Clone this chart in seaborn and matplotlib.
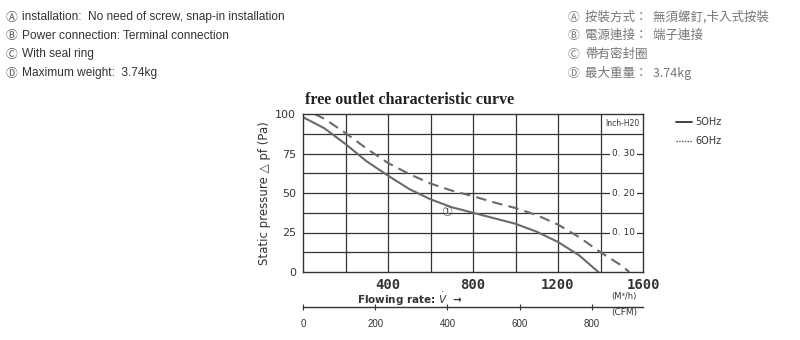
import numpy as np
import pandas as pd
import matplotlib
matplotlib.use("Agg")
import matplotlib.pyplot as plt
import seaborn as sns

# ---- data ----
flow_50 = [0, 100, 200, 300, 400, 500, 600, 700, 800, 900, 1000, 1100, 1200, 1300, 1390]
pres_50 = [98, 91, 81, 70, 61, 52.5, 46, 41, 37.5, 34, 30.5, 25.5, 19, 10.5, 0]
flow_60 = [55, 100, 200, 300, 400, 500, 600, 700, 800, 900, 1000, 1100, 1200, 1300, 1400, 1500, 1535]
pres_60 = [100, 97, 88, 78, 69, 62, 56, 51.5, 48, 44, 40.5, 36, 30, 22, 12.5, 4, 0]
x_ticks = [400, 800, 1200, 1600]
y_ticks = [0, 25, 50, 75, 100]
inch_ticks = [0.10, 0.20, 0.30]
cfm_ticks = [0, 200, 400, 600, 800]
en_lines = ["installation:  No need of screw, snap-in installation",
            "Power connection: Terminal connection",
            "With seal ring",
            "Maximum weight:  3.74kg"]
zh_lines = ["按裝方式：  無須螺釘,卡入式按裝",
            "電源連接：  端子連接",
            "帶有密封圈",
            "最大重量：  3.74kg"]
markers = ["Ⓐ", "Ⓑ", "Ⓒ", "Ⓓ"]

sns.set_theme(style="white")
plt.rcParams['font.family'] = ['DejaVu Sans', 'Noto Sans CJK TC']

df = pd.concat([
    pd.DataFrame({"flow": flow_50, "p": pres_50, "freq": "50Hz"}),
    pd.DataFrame({"flow": flow_60, "p": pres_60, "freq": "60Hz"}),
])

fig = plt.figure(figsize=(8, 3.4), dpi=100)
ax = fig.add_axes([303/800, 1-272/340, 340/800, 158/340])

sns.lineplot(data=df, x="flow", y="p", hue="freq", style="freq",
             palette={"50Hz": "#6a6a6a", "60Hz": "#6a6a6a"},
             dashes={"50Hz": "", "60Hz": (5, 3)}, lw=1.5, sort=False,
             legend=False, ax=ax)

ax.set_xlim(0, 1600)
ax.set_ylim(0, 100)
for xv in np.arange(200, 1600, 200):
    ax.axvline(xv, color="#333333", lw=0.9, zorder=0)
for yv in np.arange(12.5, 100, 12.5):
    ax.axhline(yv, color="#333333", lw=0.9, zorder=0)
for s in ax.spines.values():
    s.set_color("#333333")
    s.set_linewidth(1.0)

ax.set_xticks(x_ticks)
ax.set_xticklabels([f"{v}" for v in x_ticks], fontsize=10, fontweight="bold",
                   color="#333333", fontfamily="DejaVu Sans Mono")
ax.set_yticks(y_ticks)
ax.set_yticklabels([str(v) for v in y_ticks], fontsize=8, color="#333333")
ax.tick_params(axis="y", length=0, pad=5)
ax.tick_params(axis="x", length=0, pad=4)
ax.set_xlabel("")
ax.set_ylabel("Static pressure △ pf (Pa)", fontsize=8.5, color="#333333", labelpad=3)

# inch-H2O labels inside plot
for v in inch_ticks:
    ax.text(1510, v * 249.09, f"{v:.2f}".replace(".", ". "), fontsize=6.5,
            color="#333333", ha="center", va="center",
            bbox=dict(facecolor="white", edgecolor="none", pad=1.5))
ax.text(1505, 94, "Inch-H20", fontsize=5.5, color="#333333", ha="center", va="center",
        bbox=dict(facecolor="white", edgecolor="none", pad=1))
ax.text(678, 37.5, "①", fontsize=9, color="#555555", ha="center", va="center",
        family=["DejaVu Sans", "Noto Sans CJK TC"])

fig.text(410/800, 1-100/340, "free outlet characteristic curve", fontsize=11.5,
         fontweight="bold", family="Liberation Serif", ha="center", va="center", color="#222222")
fig.text(410/800, 1-299/340, r"Flowing rate: $\dot{V}$  →", fontsize=7.5, fontweight="bold",
         ha="center", va="center", color="#333333")
fig.text(624/800, 1-297/340, "(M³/h)", fontsize=6, ha="center", va="center", color="#333333")
fig.text(624/800, 1-313/340, "(CFM)", fontsize=6.5, ha="center", va="center", color="#333333")

# CFM axis
ax2 = fig.add_axes([303/800, 1-307/340, 340/800, 0.001])
ax2.set_xlim(0, 1600 / 1.699)
ax2.set_ylim(0, 1)
ax2.set_yticks([])
for k in ["top", "left", "right"]:
    ax2.spines[k].set_visible(False)
ax2.spines["bottom"].set_color("#333333")
ax2.spines["bottom"].set_linewidth(1.0)
ax2.set_xticks(cfm_ticks)
ax2.set_xticklabels([str(v) for v in cfm_ticks], fontsize=7, color="#333333",
                    family="Liberation Sans")
ax2.tick_params(axis="x", direction="inout", length=5, width=0.8, color="#333333", pad=6, bottom=True)
ax2.patch.set_visible(False)

# legend (manual)
fig.add_artist(plt.Line2D([676/800, 692/800], [1-122/340, 1-122/340], color="#333333", lw=1.3))
fig.add_artist(plt.Line2D([676/800, 692/800], [1-141/340, 1-141/340], color="#555555", lw=1.0, ls=(0, (1, 1))))
fig.text(695/800, 1-122/340, "5OHz", fontsize=7, va="center", color="#333333")
fig.text(695/800, 1-141/340, "6OHz", fontsize=7, va="center", color="#333333")

# header texts
for i, (m, t) in enumerate(zip(markers, en_lines)):
    y = 1 - (17 + i * 18.7) / 340
    fig.text(6/800, y, m, fontsize=8.5, color="#555555", va="center",
             family=["Noto Sans CJK TC", "DejaVu Sans"])
    fig.text(22/800, y, t, fontsize=8.6, color="#333333", va="center",
             family=["Liberation Sans", "DejaVu Sans"])
for i, (m, t) in enumerate(zip(markers, zh_lines)):
    y = 1 - (17 + i * 18.7) / 340
    fig.text(568/800, y, m, fontsize=8.5, color="#777777", va="center",
             family=["Noto Sans CJK TC", "DejaVu Sans"])
    fig.text(585/800, y, t, fontsize=9, color="#777777", va="center",
             family=["Noto Sans CJK TC", "DejaVu Sans"])

fig.savefig("out.png", dpi=100, facecolor="white")
